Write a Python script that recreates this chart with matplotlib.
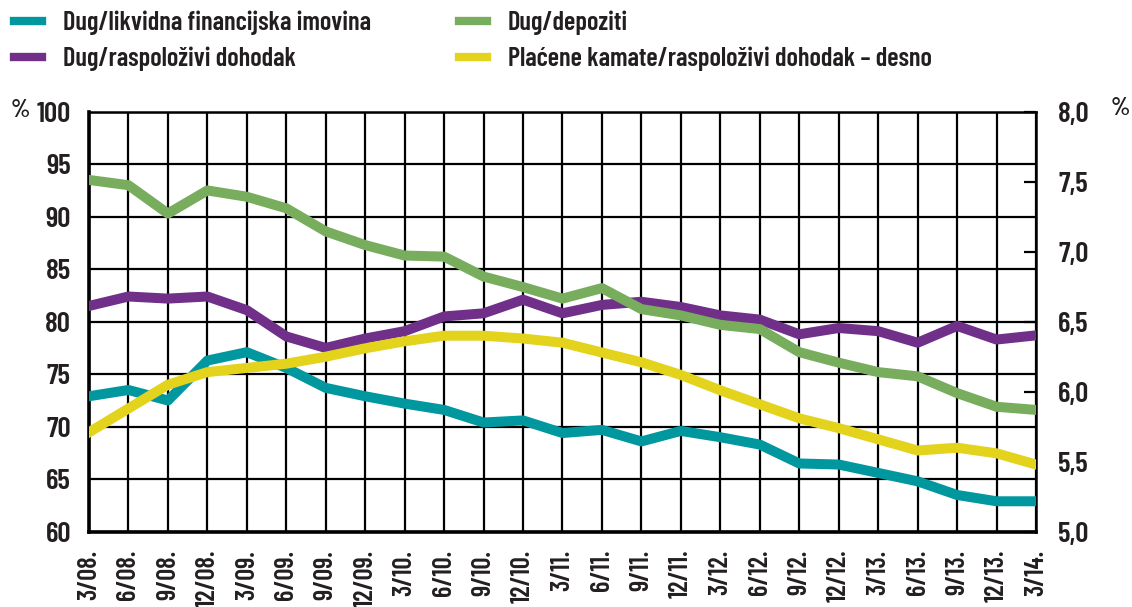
import matplotlib.pyplot as plt
from matplotlib.ticker import FixedLocator

# quarters 3/08. ... 3/14.
quarters = ["3/08.", "6/08.", "9/08.", "12/08.", "3/09.", "6/09.", "9/09.", "12/09.",
            "3/10.", "6/10.", "9/10.", "12/10.", "3/11.", "6/11.", "9/11.", "12/11.",
            "3/12.", "6/12.", "9/12.", "12/12.", "3/13.", "6/13.", "9/13.", "12/13.", "3/14."]

# left axis, %
dug_likvidna = [72.9, 73.5, 72.5, 76.3, 77.1, 75.6, 73.7, 72.9, 72.2, 71.6, 70.4, 70.6, 69.4,
                69.7, 68.6, 69.6, 69.0, 68.3, 66.5, 66.4, 65.6, 64.8, 63.5, 62.9, 62.9]
dug_dohodak = [81.5, 82.4, 82.2, 82.4, 81.1, 78.6, 77.5, 78.4, 79.1, 80.5, 80.8, 82.1, 80.8,
               81.6, 81.9, 81.4, 80.6, 80.2, 78.8, 79.4, 79.1, 78.0, 79.6, 78.3, 78.7]
dug_depoziti = [93.5, 93.0, 90.3, 92.5, 91.9, 90.8, 88.6, 87.3, 86.3, 86.2, 84.3, 83.3, 82.2,
                83.2, 81.2, 80.6, 79.7, 79.3, 77.1, 76.1, 75.2, 74.8, 73.2, 71.9, 71.6]
# right axis, %
kamate_dohodak = [5.71, 5.88, 6.05, 6.14, 6.17, 6.20, 6.25, 6.31, 6.36, 6.40, 6.40, 6.38, 6.35,
                  6.28, 6.21, 6.12, 6.01, 5.91, 5.81, 5.74, 5.66, 5.58, 5.60, 5.56, 5.48]

left_ticks = [60, 65, 70, 75, 80, 85, 90, 95, 100]
right_ticks = [5.0, 5.5, 6.0, 6.5, 7.0, 7.5, 8.0]

teal = "#00979f"
purple = "#70308a"
green = "#78ad5d"
yellow = "#e3d31c"
ink = "#231f20"

plt.rcParams["font.family"] = ["Barlow Condensed", "DejaVu Sans"]
plt.rcParams["font.weight"] = "semibold"

x = list(range(len(quarters)))

fig = plt.figure(figsize=(11.32, 6.07), dpi=100)
ax = fig.add_axes([0.0786, 0.124, 0.8366, 0.692])

l1, = ax.plot(x, dug_likvidna, color=teal, lw=7.2, solid_joinstyle="round", zorder=3)
l2, = ax.plot(x, dug_dohodak, color=purple, lw=7.2, solid_joinstyle="round", zorder=3)
l3, = ax.plot(x, dug_depoziti, color=green, lw=7.2, solid_joinstyle="round", zorder=3)

ax.set_xlim(0, len(quarters) - 1)
ax.set_ylim(60, 100)
ax.set_yticks(left_ticks)
ax.set_yticklabels([str(t) for t in left_ticks], fontsize=21, color=ink)
ax.set_xticks(x)
ax.set_xticklabels(quarters, rotation=90, fontsize=19, color=ink, va="top")
ax.tick_params(axis="both", length=0)
ax.tick_params(axis="y", pad=13)
ax.tick_params(axis="x", pad=13)
ax.grid(True, color="black", lw=1.6, zorder=1)
for side in ["top", "right"]:
    ax.spines[side].set_linewidth(1.8)
for side in ["left", "bottom"]:
    ax.spines[side].set_linewidth(2.6)

ax2 = ax.twinx()
l4, = ax2.plot(x, kamate_dohodak, color=yellow, lw=7.2, solid_joinstyle="round", zorder=3)
ax2.set_ylim(5, 8)
ax2.yaxis.set_major_locator(FixedLocator(right_ticks))
ax2.set_yticklabels([f"{t:.1f}".replace(".", ",") for t in right_ticks], fontsize=21, color=ink)
ax2.tick_params(axis="y", direction="in", length=9, width=1.6, pad=16)
for s in ax2.spines.values():
    s.set_visible(False)

# % units
fig.text(0.009, 0.818, "%", fontsize=18, color=ink, va="center", ha="left")
fig.text(0.981, 0.822, "%", fontsize=18, color=ink, va="center", ha="left")

# legend in two columns
leg_kw = dict(loc="upper left", frameon=False, fontsize=19, handlelength=1.05,
              handletextpad=0.8, labelspacing=0.45, borderaxespad=0.2, borderpad=0.2)
leg1 = fig.legend([l1, l2], ["Dug/likvidna financijska imovina", "Dug/raspoloživi dohodak"],
                  bbox_to_anchor=(0.003, 1.0), **leg_kw)
leg2 = fig.legend([l3, l4], ["Dug/depoziti", "Plaćene kamate/raspoloživi dohodak – desno"],
                  bbox_to_anchor=(0.396, 1.0), **leg_kw)
for leg in (leg1, leg2):
    for h in leg.legend_handles:
        h.set_linewidth(6)
    for t in leg.get_texts():
        t.set_color(ink)

fig.savefig("out.png", dpi=100)
